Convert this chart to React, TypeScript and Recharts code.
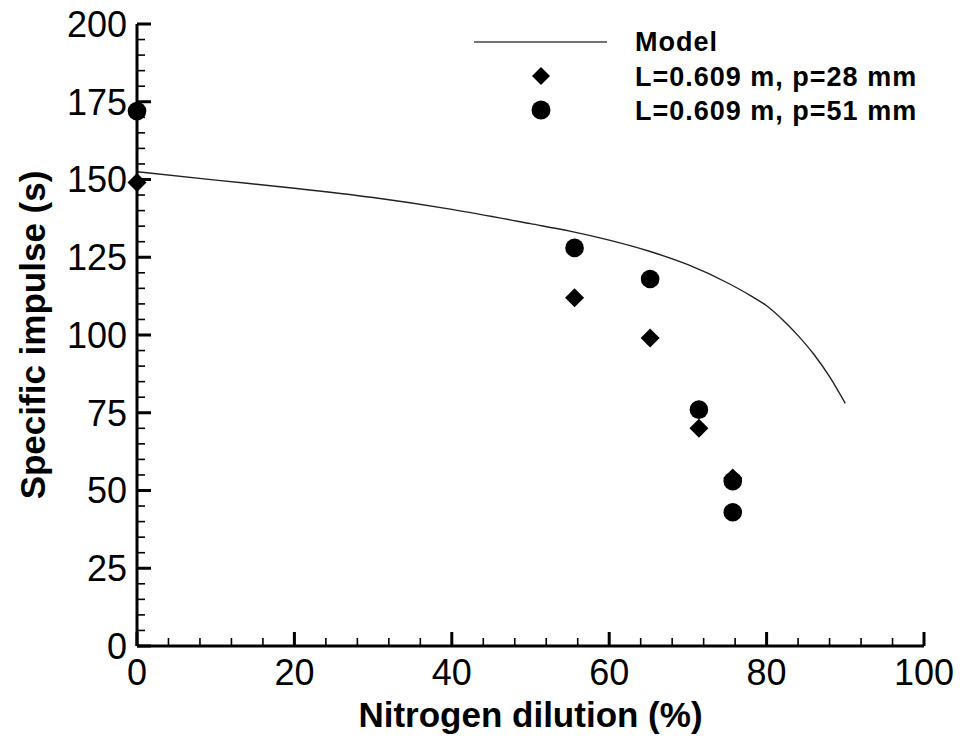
import { ComposedChart, Line, Scatter, XAxis, YAxis, Legend } from 'recharts'

const modelX = [0, 10, 20, 30, 40, 50, 55, 60, 65, 70, 75, 78, 80, 82, 84, 86, 88, 90]
const modelY = [152.5, 149.8, 147.2, 144.2, 140.4, 135.8, 133.4, 130.5, 127.0, 122.6, 116.8, 112.6, 109.4, 105.0, 99.8, 93.8, 86.6, 78]

const p28X = [0, 55.6, 65.2, 71.4, 75.7]
const p28Y = [149, 112, 99, 70, 54]

const p51X = [0, 55.6, 65.2, 71.4, 75.7, 75.7]
const p51Y = [172, 128, 118, 76, 53, 43]

const xTicks = Array.from({ length: 26 }, (_, i) => i * 4)
const yTicks = Array.from({ length: 41 }, (_, i) => i * 5)

const modelData = modelX.map((x, i) => ({ x, y: modelY[i] }))
const p28Data = p28X.map((x, i) => ({ x, y: p28Y[i] }))
const p51Data = p51X.map((x, i) => ({ x, y: p51Y[i] }))

const FONT = 'Liberation Sans, Arial, Helvetica, sans-serif'

const Diamond = ({ cx, cy }: any) => (
  <polygon points={`${cx},${cy - 9.5} ${cx + 9.5},${cy} ${cx},${cy + 9.5} ${cx - 9.5},${cy}`} fill="#000" />
)
const Dot = ({ cx, cy }: any) => <circle cx={cx} cy={cy} r={9.3} fill="#000" />

const YTick = ({ x, y, payload }: any) => {
  const v = payload.value
  const major = v % 25 === 0
  return (
    <g>
      <line x1={x} x2={x + (major ? 14 : 8)} y1={y} y2={y} stroke="#000" strokeWidth={major ? 3 : 1.6} />
      {major && (
        <text x={x - 10} y={y} dy={12.8} textAnchor="end" fontSize={36} fontFamily={FONT} fill="#000">{v}</text>
      )}
    </g>
  )
}

const XTick = ({ x, y, payload }: any) => {
  const v = payload.value
  const major = v % 20 === 0
  return (
    <g>
      <line x1={x} x2={x} y1={y} y2={y - (major ? 14 : 8)} stroke="#000" strokeWidth={major ? 3 : 1.6} />
      {major && (
        <text x={x} y={y + 39} textAnchor="middle" fontSize={36} fontFamily={FONT} fill="#000">{v}</text>
      )}
    </g>
  )
}

const legendRows = ['Model', 'L=0.609 m, p=28 mm', 'L=0.609 m, p=51 mm']

const renderLegend = () => (
  <svg width={480} height={110} style={{ display: 'block' }}>
    <line x1={14} x2={147} y1={22} y2={22} stroke="#444" strokeWidth={1.5} />
    <polygon points="81,47 90,56 81,65 72,56" fill="#000" />
    <circle cx={81} cy={90} r={9.5} fill="#000" />
    {legendRows.map((t, i) => (
      <text key={t} x={175} y={31 + i * 34.5} fontSize={27} letterSpacing={1} fontWeight="bold" fontFamily={FONT} fill="#000">{t}</text>
    ))}
  </svg>
)

export default function App() {
  return (
    <div style={{ position: 'absolute', left: 0, top: 0, background: '#fff' }}>
      <ComposedChart width={960} height={742} margin={{ top: 24, right: 36, bottom: 0, left: 0 }}>
        <XAxis
          type="number"
          dataKey="x"
          domain={[0, 100]}
          ticks={xTicks}
          interval={0}
          height={96}
          tickSize={0}
          tickMargin={0}
          tickLine={false}
          tick={<XTick />}
          axisLine={{ stroke: '#000', strokeWidth: 3 }}
          label={({ viewBox }: any) => (
            <text x={viewBox.x + viewBox.width / 2} y={727} textAnchor="middle" fontSize={35} fontWeight="bold" fontFamily={FONT} fill="#000">
              Nitrogen dilution (%)
            </text>
          )}
        />
        <YAxis
          type="number"
          dataKey="y"
          domain={[0, 200]}
          ticks={yTicks}
          interval={0}
          width={137}
          tickSize={0}
          tickMargin={0}
          tickLine={false}
          tick={<YTick />}
          axisLine={{ stroke: '#000', strokeWidth: 3 }}
          label={({ viewBox }: any) => {
            const cy = viewBox.y + viewBox.height / 2
            return (
              <text x={45} y={cy} transform={`rotate(-90 45 ${cy})`} textAnchor="middle" fontSize={35} fontWeight="bold" fontFamily={FONT} fill="#000">
                Specific impulse (s)
              </text>
            )
          }}
        />
        <Line data={modelData} dataKey="y" type="monotone" stroke="#222" strokeWidth={1.4} dot={false} isAnimationActive={false} />
        <Scatter data={p28Data} dataKey="y" shape={<Diamond />} isAnimationActive={false} />
        <Scatter data={p51Data} dataKey="y" shape={<Dot />} isAnimationActive={false} />
        <Legend
          layout="vertical"
          align="center"
          verticalAlign="middle"
          content={renderLegend}
          wrapperStyle={{ left: 460, top: 20, width: 480, height: 110 }}
        />
      </ComposedChart>
    </div>
  )
}
